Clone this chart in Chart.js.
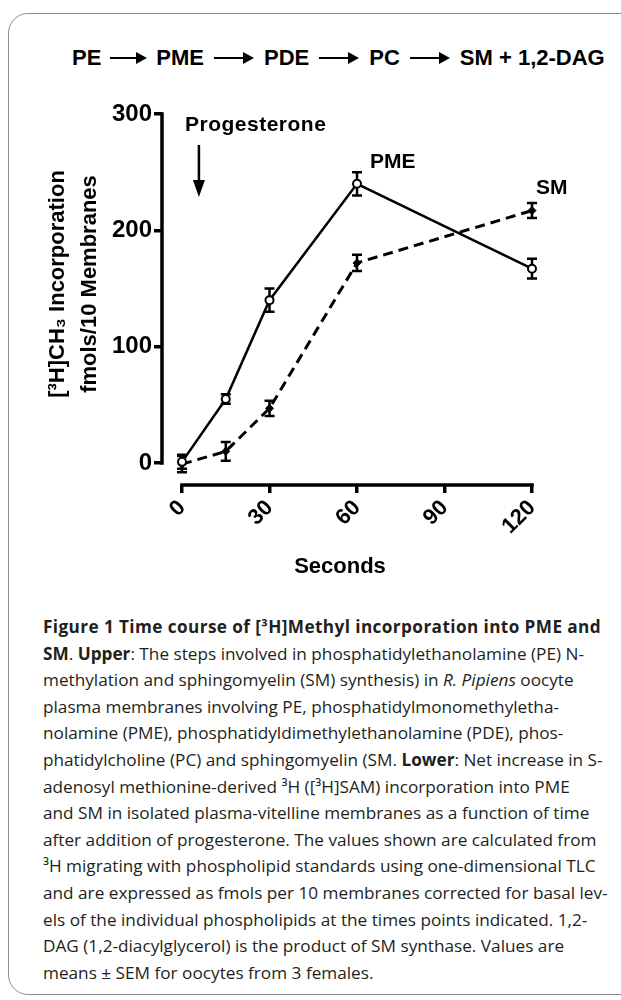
<!DOCTYPE html>
<html>
<head>
<meta charset="utf-8">
<script src="https://cdn.jsdelivr.net/npm/chart.js@4.4.0/dist/chart.umd.min.js"></script>
<style>
  html, body { margin: 0; padding: 0; background: #fff; }
  body { width: 621px; height: 1000px; position: relative; overflow: hidden; font-family: Arial, "Liberation Sans", sans-serif; }
  #frame { position: absolute; left: 8px; top: 13px; width: 720px; height: 980px; border: 1px solid #8c8c8c; border-radius: 20px; }
  #scheme { position: absolute; left: 72px; top: 46px; font-size: 22px; font-weight: bold; white-space: nowrap; line-height: 24px; }
  .arr { display: inline-block; position: relative; width: 40px; height: 12px; vertical-align: middle; margin: 0 10px; top: -1px; }
  .arr.first { width: 37px; margin: 0 9px; }
  .arr:before { content: ''; position: absolute; left: 0; top: 5px; right: 10px; height: 2px; background: #000; }
  .arr:after { content: ''; position: absolute; right: 0; top: 0; border-left: 11px solid #000; border-top: 6px solid transparent; border-bottom: 6px solid transparent; }
  #wrap { position: absolute; left: 0; top: 80px; width: 621px; height: 520px; }
  #caption { position: absolute; left: 43px; top: 614px; font-family: "Open Sans", sans-serif; font-size: 17.2px; line-height: 26.6px; color: #231f20; white-space: nowrap; }
  #caption .head { letter-spacing: 0.4px; }
</style>
</head>
<body>
<div id="frame"></div>
<div id="scheme">PE<span class="arr first"></span>PME<span class="arr"></span>PDE<span class="arr"></span>PC<span class="arr"></span>SM + 1,2-DAG</div>
<div id="wrap"><canvas id="Chart" width="621" height="520"></canvas></div>
<div id="caption">
<div class="head"><b>Figure 1 Time course of [³H]Methyl incorporation into PME and</b></div>
<div><b>SM</b>. <b>Upper</b>: The steps involved in phosphatidylethanolamine (PE) N-</div>
<div>methylation and sphingomyelin (SM) synthesis) in <i>R. Pipiens</i> oocyte</div>
<div>plasma membranes involving PE, phosphatidylmonomethyletha-</div>
<div>nolamine (PME), phosphatidyldimethylethanolamine (PDE), phos-</div>
<div>phatidylcholine (PC) and sphingomyelin (SM. <b>Lower</b>: Net increase in S-</div>
<div>adenosyl methionine-derived ³H ([³H]SAM) incorporation into PME</div>
<div>and SM in isolated plasma-vitelline membranes as a function of time</div>
<div>after addition of progesterone. The values shown are calculated from</div>
<div>³H migrating with phospholipid standards using one-dimensional TLC</div>
<div>and are expressed as fmols per 10 membranes corrected for basal lev-</div>
<div>els of the individual phospholipids at the times points indicated. 1,2-</div>
<div>DAG (1,2-diacylglycerol) is the product of SM synthase. Values are</div>
<div>means ± SEM for oocytes from 3 females.</div>
</div>
<script>
const seconds = [0, 15, 30, 60, 120];
const pmeValues = [1, 55, 140, 240, 167];
const pmeErrors = [6, 4, 10, 10, 8.5];
const smValues = [-1, 10, 47, 172, 217];
const smErrors = [7, 8, 6.5, 7, 6.5];
const xTicks = [0, 30, 60, 90, 120];
const yTicks = [0, 100, 200, 300];

const FONT = 'Arial, "Liberation Sans", sans-serif';
const errorSets = [pmeErrors, smErrors];

// prism style axes: lines only from first to last tick
const axisLines = {
    id: 'axisLines',
    beforeDatasetsDraw(chart) {
        const { ctx, chartArea, scales: { x, y } } = chart;
        ctx.save();
        ctx.strokeStyle = '#000';
        ctx.lineWidth = 3.5;
        ctx.beginPath();
        ctx.moveTo(chartArea.left, y.getPixelForValue(yTicks[0]) + 1.75);
        ctx.lineTo(chartArea.left, y.getPixelForValue(yTicks[yTicks.length - 1]) - 1.75);
        ctx.moveTo(x.getPixelForValue(xTicks[0]) - 1.75, chartArea.bottom);
        ctx.lineTo(x.getPixelForValue(xTicks[xTicks.length - 1]) + 1.75, chartArea.bottom);
        ctx.stroke();

        // error bars behind the markers
        ctx.lineWidth = 2.5;
        chart.data.datasets.forEach((ds, i) => {
            ds.data.forEach((p, j) => {
                const px = x.getPixelForValue(p.x);
                const e = errorSets[i][j];
                const top = y.getPixelForValue(p.y + e);
                const bot = y.getPixelForValue(p.y - e);
                ctx.beginPath();
                ctx.moveTo(px, top); ctx.lineTo(px, bot);
                ctx.moveTo(px - 5, top); ctx.lineTo(px + 5, top);
                ctx.moveTo(px - 5, bot); ctx.lineTo(px + 5, bot);
                ctx.stroke();
            });
        });
        ctx.restore();
    }
};

const notes = {
    id: 'notes',
    afterDraw(chart) {
        const { ctx, chartArea, scales: { x, y } } = chart;
        ctx.save();
        ctx.fillStyle = '#000';
        ctx.strokeStyle = '#000';

        // y title, two lines
        ctx.save();
        ctx.font = 'bold 22px ' + FONT;
        ctx.textAlign = 'center';
        ctx.textBaseline = 'middle';
        ctx.translate(58, chartArea.top + 170);
        ctx.rotate(-Math.PI / 2);
        ctx.fillText('[³H]CH₃ Incorporation', 0, 0);
        ctx.fillText('fmols/10 Membranes', 0, 32);
        ctx.restore();

        // x title
        ctx.font = 'bold 22px ' + FONT;
        ctx.textAlign = 'center';
        ctx.textBaseline = 'middle';
        ctx.fillText('Seconds', 340, chartArea.bottom + 82);

        // progesterone marker
        ctx.font = 'bold 21px ' + FONT;
        ctx.letterSpacing = '0.5px';
        ctx.textAlign = 'left';
        ctx.fillText('Progesterone', 185, chartArea.top + 11);
        ctx.letterSpacing = '0px';
        const ax = x.getPixelForValue(5.8);
        ctx.lineWidth = 2.5;
        ctx.beginPath();
        ctx.moveTo(ax, chartArea.top + 31);
        ctx.lineTo(ax, chartArea.top + 70);
        ctx.stroke();
        ctx.beginPath();
        ctx.moveTo(ax - 6, chartArea.top + 66);
        ctx.lineTo(ax + 6, chartArea.top + 66);
        ctx.lineTo(ax, chartArea.top + 83);
        ctx.closePath();
        ctx.fill();

        // series labels
        ctx.font = 'bold 21px ' + FONT;
        ctx.fillText('PME', x.getPixelForValue(60) + 13, y.getPixelForValue(pmeValues[3]) - 22);
        ctx.fillText('SM', x.getPixelForValue(120) + 4, y.getPixelForValue(smValues[4]) - 22);
        ctx.restore();
    }
};

function toPoints(vals) {
    return seconds.map((t, i) => ({ x: t, y: vals[i] }));
}

let graphTarget = document.getElementById('Chart');
let lineGraph = new Chart(graphTarget, {
    type: 'line',
    data: {
        datasets: [{
                label: 'PME',
                data: toPoints(pmeValues),
                borderColor: '#000',
                borderWidth: 2.5,
                pointRadius: 4,
                pointBackgroundColor: '#fff',
                pointBorderColor: '#000',
                pointBorderWidth: 2,
                clip: false
            },
            {
                label: 'SM',
                data: toPoints(smValues),
                borderColor: '#000',
                borderWidth: 3,
                borderDash: [10, 6],
                pointStyle: 'rectRot',
                pointRadius: 4,
                pointBackgroundColor: '#000',
                pointBorderColor: '#000',
                pointBorderWidth: 1,
                clip: false
            }
        ]
    },
    options: {
        responsive: false,
        animation: false,
        layout: { padding: { left: 0, right: 89, top: 34, bottom: 0 } },
        plugins: { legend: { display: false }, tooltip: { enabled: false } },
        scales: {
            x: {
                type: 'linear',
                min: -6.86,
                max: 120,
                afterBuildTicks: s => { s.ticks = xTicks.map(v => ({ value: v })); },
                afterFit: s => { s.height = 115; },
                grid: { drawOnChartArea: false, color: '#000', lineWidth: 3.5, tickLength: 8 },
                border: { display: false },
                ticks: { color: '#000', font: { family: FONT, size: 22, weight: 'bold' }, minRotation: 45, maxRotation: 45, padding: 2 }
            },
            y: {
                min: -18.9,
                max: 300,
                afterBuildTicks: s => { s.ticks = yTicks.map(v => ({ value: v })); },
                afterFit: s => { s.width = 162; },
                grid: { drawOnChartArea: false, color: '#000', lineWidth: 3.5, tickLength: 8 },
                border: { display: false },
                ticks: { color: '#000', font: { family: FONT, size: 24, weight: 'bold' }, padding: 2 }
            }
        }
    },
    plugins: [axisLines, notes]
});
</script>
</body>
</html>
